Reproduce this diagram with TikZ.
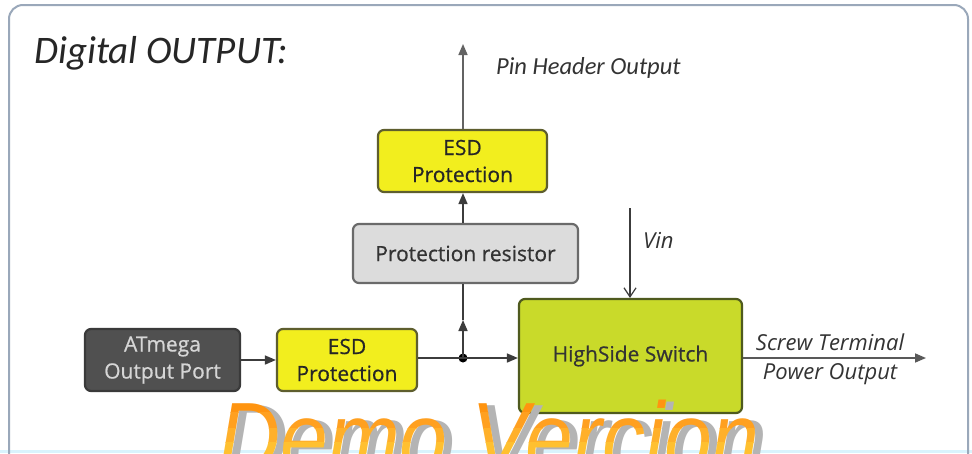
\documentclass[tikz,border=0pt]{standalone}
\usepackage{fontspec}
\setmainfont{Open Sans}
\newfontfamily\boxfont{Open Sans}[FakeBold=0.6]
\newfontfamily\titlefont{Carlito}
\newfontfamily\markfont{Liberation Sans}
\usetikzlibrary{arrows.meta,positioning}

\definecolor{framecol}{HTML}{9AA8BA}
\definecolor{esdfill}{HTML}{F2EE1E}
\definecolor{esdedge}{HTML}{5E5E2E}
\definecolor{hsfill}{HTML}{C9DA2A}
\definecolor{hsedge}{HTML}{4F5A1E}
\definecolor{resfill}{HTML}{DCDCDC}
\definecolor{resedge}{HTML}{6A6A6A}
\definecolor{mcufill}{HTML}{505050}
\definecolor{mcuedge}{HTML}{3A3A3A}
\definecolor{mcutext}{HTML}{D6D6D6}
\definecolor{wirecol}{HTML}{3C3C3C}
\definecolor{labelcol}{HTML}{333333}
\definecolor{markA}{HTML}{FF9410}
\definecolor{markB}{HTML}{FFA020}
\definecolor{markC}{HTML}{FFB02A}
\definecolor{markD}{HTML}{FFC030}
\definecolor{markshadow}{HTML}{B4B4B4}

\tikzset{
  block/.style={draw, line width=2.2pt, rounded corners=6pt, align=center,
    inner sep=0pt, font=\boxfont\fontsize{21}{27}\selectfont},
  esdbox/.style={block, fill=esdfill, draw=esdedge, text=black!85,
    minimum width=169pt, minimum height=62pt},
  wire/.style={draw=wirecol, line width=1.6pt},
  arr/.style={wire, -{Triangle[length=11pt,width=9pt]}},
  openarr/.style={draw=wirecol, line width=1.2pt, -{Straight Barb[length=9pt,width=12pt]}},
  sidelabel/.style={text=labelcol, inner sep=0pt},
}

\newcommand{\marktext}{Demo Vercion}

\begin{document}
\begin{tikzpicture}[x=1pt,y=-1pt]
\useasboundingbox (0,0) rectangle (972,453);
\fill[white] (0,0) rectangle (972,453);
\fill[cyan!15] (0,450) rectangle (972,453);

% outer frame
\draw[framecol, line width=2pt, rounded corners=14pt]
  (9,470) -- (9,5) -- (968,5) -- (968,470);

% title
\node[anchor=west, inner sep=0pt, text=black!85,
  font=\titlefont\itshape\fontsize{39}{44}\selectfont] (title) at (34,53) {Digital OUTPUT:};

% blocks
\node[block, fill=mcufill, draw=mcuedge, text=mcutext,
  minimum width=155pt, minimum height=62pt] (mcu) at (162.5,360) {ATmega\\Output Port};
\node[esdbox, minimum width=140pt] (esdin) at (347,360) {ESD\\Protection};
\node[block, fill=hsfill, draw=hsedge, text=black!80,
  minimum width=223pt, minimum height=114pt] (hs) at (630.5,356) {HighSide Switch};
\node[block, fill=resfill, draw=resedge, text=black!80,
  minimum width=225pt, minimum height=59pt] (res) at (465.5,253.5) {Protection resistor};
\node[esdbox] (esdout) at (462.5,161) {ESD\\Protection};

% junction and free ends
\coordinate (jn) at (463,358);
\coordinate (mid) at (463,320);
\coordinate (pinout) at (463,44);
\coordinate (vin) at (630,208);
\coordinate (pwrout) at (926,358);
\fill[black] (jn) circle (4.5pt);

% connectors
\draw[arr] (mcu.east |- 0,360) -- (esdin.west |- 0,360);
\draw[wire] (esdin.east |- jn) -- (jn);
\draw[arr] (jn) -- (hs.west |- jn);
\draw[arr] (jn) -- (mid);
\draw[wire] (mid) -- (jn |- res.south);
\draw[arr] (jn |- res.north) -- (jn |- esdout.south);
\draw[arr, draw=wirecol!80] (jn |- esdout.north) -- (pinout);
\draw[openarr] (vin) -- (vin |- hs.north);
\draw[arr, draw=wirecol!85] (hs.east |- pwrout) -- (pwrout);

% side labels
\node[sidelabel, anchor=west, font=\titlefont\itshape\fontsize{24.5}{28}\selectfont]
  (pinlbl) at (496,68) {Pin Header Output};
\node[sidelabel, anchor=west, font=\itshape\fontsize{22}{26}\selectfont]
  (vinlbl) at (643,240) {Vin};
\node[sidelabel, font=\itshape\fontsize{22}{26}\selectfont]
  (scrlbl) at (830,342) {Screw Terminal};
\node[sidelabel, font=\itshape\fontsize{22}{26}\selectfont]
  (pwrlbl) at (830,374) {Power Output};

% watermark: grey shadow, then orange banded from top to bottom
\tikzset{wm/.style={anchor=base west, inner sep=0pt, xscale=0.86,
  font=\markfont\itshape\fontsize{100}{110}\selectfont}}
\node[wm, text=markshadow] (wmshadow) at (226,474) {\marktext};
\foreach \ytop/\ybot/\col in {380/412/markA, 412/428/markB, 428/442/markC, 442/460/markD}{
  \begin{scope}
    \clip (0,\ytop) rectangle (972,\ybot);
    \node[wm, text=\col] at (218,472) {\marktext};
  \end{scope}
}
\end{tikzpicture}
\end{document}
